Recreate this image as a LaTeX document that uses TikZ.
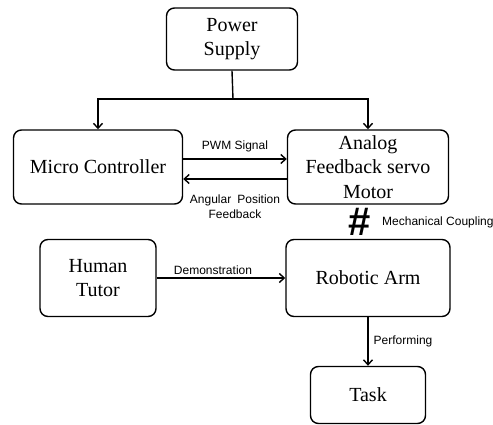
\documentclass[tikz,border=0pt]{standalone}
\usepackage{fontspec}
\setmainfont{Liberation Serif}
\newfontfamily\labelfont{Liberation Sans}
\usetikzlibrary{arrows.meta}

\begin{document}
\begin{tikzpicture}[x=1pt, y=-1pt,
    block/.style={draw, line width=1.4pt, rounded corners=8pt,
                  align=center, inner sep=0pt,
                  font=\fontsize{20}{24.5}\selectfont},
    signal/.style={font=\labelfont\fontsize{12}{15}\selectfont,
                   align=center, inner sep=1pt},
    link/.style={line width=1.4pt,
                 -{Straight Barb[length=5pt,width=9pt,line width=1.4pt]}}]
\useasboundingbox (0,0) rectangle (493,425);

\node (supply) [block, minimum width=131pt, minimum height=62pt] at (232,39) {Power\\Supply};
\node (micro) [block, minimum width=169pt, minimum height=74pt] at (98,167) {Micro Controller};
\node (motor) [block, minimum width=161pt, minimum height=74pt] at (368,167) {Analog\\Feedback servo\\Motor};
\node (tutor) [block, minimum width=116pt, minimum height=77pt] at (98,278) {Human\\Tutor};
\node (arm) [block, minimum width=164pt, minimum height=77pt] at (368,278) {Robotic Arm};
\node (task) [block, minimum width=115pt, minimum height=57pt] at (368,395) {Task};
%
\node (coupling) [font=\labelfont\bfseries\fontsize{40}{40}\selectfont, inner sep=0pt] at (360,222) {\#};
\node (couplingtext) [signal, anchor=west] at (381,222) {Mechanical Coupling};
%
\coordinate (split) at (233,99);
\draw [line width=1.4pt] (supply.south) -- (split);
\draw [link] (split) -| (micro.north);
\draw [link] (split) -| (motor.north);

\draw [link] ([yshift=8pt]micro.east) -- ([yshift=8pt]motor.west)
    node [signal, midway, above=5pt] {PWM Signal};
\draw [link] ([yshift=-12pt]motor.west) -- ([yshift=-12pt]micro.east)
    node [signal, midway, below=14pt] {Angular\enspace Position\\Feedback};
\draw [link] (tutor) -- (arm)
    node [signal, midway, above=2pt, xshift=-8pt] {Demonstration};
\draw [link] (arm) -- (task)
    node [signal, midway, right=4pt] {Performing};
\end{tikzpicture}
\end{document}
